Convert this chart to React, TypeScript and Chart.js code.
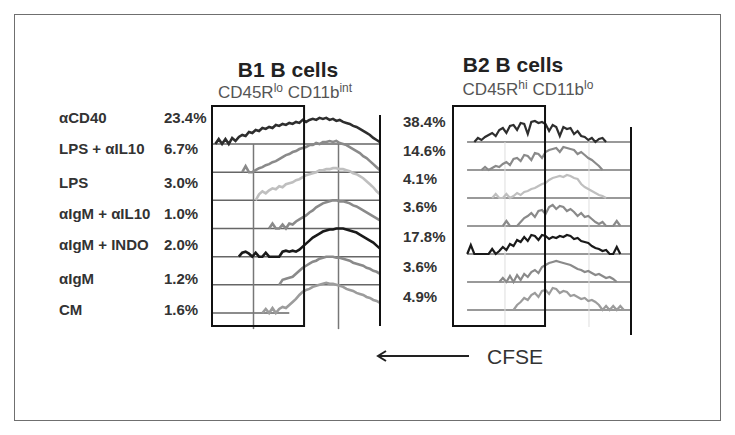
import React, { useEffect, useRef } from "react";
import { Chart, registerables } from "chart.js";

Chart.register(...registerables);

// ---------- data ----------
const CFSE_STEP = 2; // channel step between histogram bins (CFSE channel 0..100)
const ROW_STEP = 28; // count offset between stacked histograms

const CONDITIONS = ["αCD40", "LPS + αIL10", "LPS", "αIgM + αIL10", "αIgM + INDO", "αIgM", "CM"];
const B1_PCT = ["23.4%", "6.7%", "3.0%", "1.0%", "2.0%", "1.2%", "1.6%"];
const B2_PCT = ["38.4%", "14.6%", "4.1%", "3.6%", "17.8%", "3.6%", "4.9%"];

// B1 B cells (first channel of each histogram, then counts)
const B1_START = [2, 18, 26, 34, 16, 40, 30];
const B1_CD40 = [0, 5, 0, 5, 0, 6, 3, 7, 9, 8, 12, 11, 14, 13, 16, 15, 17, 16, 19, 18, 20, 19, 21, 20, 22, 21, 24, 22, 24, 25, 24, 26, 25, 26, 24, 25, 23, 24, 22, 21, 20, 18, 17, 15, 13, 11, 9, 6, 4, 2];
const B1_LPS_IL10 = [0, 6, 0, 0, 2, 4, 5, 7, 8, 10, 11, 13, 15, 17, 18, 20, 21, 23, 24, 25, 27, 27, 29, 28, 30, 30, 31, 30, 31, 29, 28, 27, 25, 23, 21, 19, 16, 14, 11, 8, 5, 2];
const B1_LPS = [0, 6, 9, 7, 10, 12, 11, 14, 13, 16, 17, 18, 20, 21, 23, 25, 26, 27, 28, 30, 30, 31, 31, 32, 32, 31, 31, 30, 29, 27, 26, 24, 22, 19, 16, 13, 9, 6];
const B1_IGM_IL10 = [0, 5, 0, 0, 4, 0, 5, 4, 7, 9, 11, 13, 16, 18, 21, 23, 25, 26, 27, 28, 28, 27, 27, 26, 25, 23, 22, 20, 18, 16, 14, 12, 10, 8];
const B1_IGM_INDO = [0, 4, 5, 3, 0, 4, 0, 0, 4, 0, 0, 0, 0, 5, 6, 5, 6, 5, 7, 10, 13, 16, 19, 21, 23, 25, 26, 27, 27, 28, 28, 28, 27, 26, 25, 24, 22, 20, 18, 16, 14, 11, 8];
const B1_IGM = [0, 5, 6, 7, 8, 11, 14, 17, 19, 21, 23, 24, 26, 27, 28, 28, 28, 27, 27, 26, 25, 24, 22, 21, 20, 19, 17, 16, 14, 13, 11];
const B1_CM = [0, 4, 0, 5, 0, 4, 6, 5, 8, 11, 14, 18, 21, 23, 24, 26, 27, 28, 29, 30, 29, 29, 28, 27, 26, 24, 23, 22, 20, 19, 18, 16, 15, 13, 12, 10];

// B2 B cells
const B2_START = [12, 16, 22, 28, 8, 26, 34];
const B2_CD40 = [0, 4, 2, 5, 7, 9, 6, 12, 14, 9, 16, 17, 12, 19, 18, 8, 20, 21, 19, 20, 18, 11, 17, 15, 6, 15, 13, 14, 8, 11, 6, 5, 2, 4, 0, 3, 4, 0];
const B2_LPS_IL10 = [0, 3, 0, 2, 4, 3, 6, 8, 5, 11, 12, 9, 15, 14, 10, 17, 16, 12, 18, 20, 21, 22, 18, 23, 22, 21, 20, 16, 18, 15, 12, 10, 7, 4, 0];
const B2_LPS = [0, 4, 0, 0, 4, 0, 2, 5, 3, 6, 7, 9, 10, 12, 14, 15, 18, 20, 21, 22, 21, 23, 22, 20, 19, 14, 11, 9, 7, 5, 3, 2, 0];
const B2_IGM_IL10 = [0, 5, 0, 0, 0, 4, 8, 10, 13, 9, 15, 16, 12, 19, 21, 17, 20, 19, 15, 17, 14, 10, 13, 9, 10, 7, 4, 2, 4, 0, 0, 0, 5, 0];
const B2_IGM_INDO = [0, 9, 0, 0, 0, 0, 0, 5, 0, 3, 7, 4, 10, 8, 14, 12, 17, 13, 19, 18, 14, 19, 18, 15, 17, 16, 18, 17, 19, 18, 15, 16, 13, 12, 11, 8, 6, 5, 3, 4, 0, 0, 7, 0];
const B2_IGM = [0, 4, 0, 6, 0, 7, 2, 8, 5, 10, 12, 9, 15, 17, 19, 20, 21, 20, 19, 18, 17, 15, 13, 12, 10, 11, 9, 7, 8, 6, 4, 5, 3, 0];
const B2_CM = [0, 5, 8, 12, 10, 15, 17, 13, 19, 20, 16, 22, 21, 17, 19, 18, 14, 15, 13, 11, 12, 9, 10, 8, 5, 0, 4, 0, 4, 0, 4, 0];

const B1_SERIES = [B1_CD40, B1_LPS_IL10, B1_LPS, B1_IGM_IL10, B1_IGM_INDO, B1_IGM, B1_CM];
const B2_SERIES = [B2_CD40, B2_LPS_IL10, B2_LPS, B2_IGM_IL10, B2_IGM_INDO, B2_IGM, B2_CM];

// gates and reference channels
const B1_GATE = [0, 54.8];
const B2_GATE = [0, 51.7];
const B1_REFS = [24.7, 75.3];
const B2_REFS = [29.2, 76.4];

// ---------- styles ----------
const SERIES_COLORS = ["#2e2e2e", "#8a8a8a", "#bfbfbf", "#8a8a8a", "#1a1a1a", "#8a8a8a", "#9c9c9c"];
const FONT = "'Liberation Sans', Arial, Helvetica, sans-serif";

function withAlpha(hex: string, a: number) {
  const n = parseInt(hex.slice(1), 16);
  return `rgba(${(n >> 16) & 255},${(n >> 8) & 255},${n & 255},${a})`;
}

type PanelProps = {
  series: number[][];
  starts: number[];
  gate: number[];
  refs: number[];
  left: number;
  top: number;
  width: number;
  height: number;
  padding: { left: number; right: number; top: number; bottom: number };
  yMin: number;
  yMax: number;
  baseStart: number;
  baseEnds: number[];
  baseColor: string;
  refColor: string;
  refWidth: number;
  refRange: number[];
  rightRange: number[];
  lineWidth: number;
  fillAlpha: number;
};

function HistPanel(p: PanelProps) {
  const ref = useRef<HTMLCanvasElement | null>(null);
  useEffect(() => {
    if (!ref.current) return;
    const nRows = p.series.length;
    const datasets = p.series.map((vals, r) => {
      const base = (nRows - 1 - r) * ROW_STEP;
      return {
        data: vals.map((v, i) => ({ x: p.starts[r] + i * CFSE_STEP, y: v + base })),
        borderColor: SERIES_COLORS[r],
        backgroundColor: withAlpha(SERIES_COLORS[r], p.fillAlpha),
        borderWidth: p.lineWidth,
        pointRadius: 0,
        tension: 0,
        fill: p.fillAlpha > 0 ? { value: base } : false,
        clip: false as any,
      };
    });
    const decor = {
      id: "decor",
      beforeDatasetsDraw(chart: any) {
        const ctx = chart.ctx;
        const xs = chart.scales.x;
        const ys = chart.scales.y;
        ctx.save();
        ctx.strokeStyle = p.baseColor;
        ctx.lineWidth = 1.5;
        p.baseEnds.forEach((end, r) => {
          const yy = ys.getPixelForValue((nRows - 1 - r) * ROW_STEP);
          ctx.beginPath();
          ctx.moveTo(xs.getPixelForValue(p.baseStart), yy);
          ctx.lineTo(xs.getPixelForValue(end), yy);
          ctx.stroke();
        });
        ctx.strokeStyle = p.refColor;
        ctx.lineWidth = p.refWidth;
        p.refs.forEach((v) => {
          const xx = xs.getPixelForValue(v);
          ctx.beginPath();
          ctx.moveTo(xx, ys.getPixelForValue(p.refRange[0]));
          ctx.lineTo(xx, ys.getPixelForValue(p.refRange[1]));
          ctx.stroke();
        });
        ctx.restore();
      },
      afterDatasetsDraw(chart: any) {
        const ctx = chart.ctx;
        const xs = chart.scales.x;
        const ys = chart.scales.y;
        const area = chart.chartArea;
        ctx.save();
        ctx.strokeStyle = "#111";
        ctx.lineWidth = 2;
        const l = xs.getPixelForValue(p.gate[0]);
        const rr = xs.getPixelForValue(p.gate[1]);
        ctx.strokeRect(l, area.top, rr - l, area.bottom - area.top);
        const xr = xs.getPixelForValue(100);
        ctx.beginPath();
        ctx.moveTo(xr, ys.getPixelForValue(p.rightRange[0]));
        ctx.lineTo(xr, ys.getPixelForValue(p.rightRange[1]));
        ctx.stroke();
        ctx.restore();
      },
    };
    const chart = new Chart(ref.current, {
      type: "line",
      data: { datasets: datasets as any },
      options: {
        animation: false,
        responsive: false,
        devicePixelRatio: 1,
        events: [],
        layout: { padding: p.padding },
        plugins: { legend: { display: false }, tooltip: { enabled: false } },
        scales: {
          x: { type: "linear", min: 0, max: 100, display: false },
          y: { type: "linear", min: p.yMin, max: p.yMax, display: false },
        },
      },
      plugins: [decor],
    });
    return () => chart.destroy();
  }, []);
  return (
    <canvas
      ref={ref}
      width={p.width}
      height={p.height}
      style={{ position: "absolute", left: p.left, top: p.top, width: p.width, height: p.height }}
    />
  );
}

const B1_LABEL_Y = [117.3, 148, 182.7, 213, 244, 278, 309.3];
const B2_LABEL_Y = [121.7, 150, 178.3, 206.7, 236.7, 266.7, 296.7];

function Txt(props: { x: number; cy: number; size: number; bold?: boolean; color: string; children: any; align?: "left" | "center"; w?: number }) {
  const { x, cy, size, bold, color, children, align, w } = props;
  return (
    <div
      style={{
        position: "absolute",
        left: align === "center" ? x - (w || 200) / 2 : x,
        width: align === "center" ? w || 200 : undefined,
        textAlign: align || "left",
        top: cy - 0.488 * size,
        fontSize: size,
        lineHeight: `${size}px`,
        fontWeight: bold ? 700 : 400,
        color,
        whiteSpace: "nowrap",
        fontFamily: FONT,
      }}
    >
      {children}
    </div>
  );
}

export default function App() {
  const sup = { fontSize: 12, verticalAlign: "6px" } as React.CSSProperties;
  return (
    <div style={{ position: "absolute", left: 0, top: 0, width: 735, height: 435, background: "#fff", fontFamily: FONT, overflow: "hidden" }}>
      <div style={{ position: "absolute", left: 14, top: 14, width: 705, height: 405, border: "1px solid #6f6f6f" }} />

      <Txt x={288} cy={69.6} size={21} bold color="#222" align="center">B1 B cells</Txt>
      <Txt x={285} cy={88} size={17} color="#555" align="center" w={240}>
        CD45R<span style={sup}>lo</span> CD11b<span style={sup}>int</span>
      </Txt>
      <Txt x={513} cy={64.6} size={21} bold color="#222" align="center">B2 B cells</Txt>
      <Txt x={528} cy={85.5} size={17} color="#555" align="center" w={240}>
        CD45R<span style={sup}>hi</span> CD11b<span style={sup}>lo</span>
      </Txt>

      {CONDITIONS.map((c, i) => (
        <Txt key={"c" + i} x={59} cy={B1_LABEL_Y[i]} size={15} bold color="#333">{c}</Txt>
      ))}
      {B1_PCT.map((c, i) => (
        <Txt key={"p1" + i} x={164} cy={B1_LABEL_Y[i]} size={15} bold color="#333">{c}</Txt>
      ))}
      {B2_PCT.map((c, i) => (
        <Txt key={"p2" + i} x={403} cy={B2_LABEL_Y[i]} size={15} bold color="#333">{c}</Txt>
      ))}

      <HistPanel
        series={B1_SERIES}
        starts={B1_START}
        gate={B1_GATE}
        refs={B1_REFS}
        left={200}
        top={95}
        width={195}
        height={245}
        padding={{ left: 12, right: 15, top: 11, bottom: 14 }}
        yMin={-12.9}
        yMax={205.8}
        baseStart={0}
        baseEnds={[100, 100, 100, 100, 100, 100, 46]}
        baseColor="#666"
        refColor="#777"
        refWidth={1.5}
        refRange={[168, -16]}
        rightRange={[196.8, -12.9]}
        lineWidth={2.6}
        fillAlpha={0}
      />
      <HistPanel
        series={B2_SERIES}
        starts={B2_START}
        gate={B2_GATE}
        refs={B2_REFS}
        left={440}
        top={95}
        width={205}
        height={250}
        padding={{ left: 13, right: 14, top: 11, bottom: 19 }}
        yMin={-16}
        yMax={204}
        baseStart={7.9}
        baseEnds={[100, 100, 100, 100, 100, 100, 100]}
        baseColor="#777"
        refColor="#dedede"
        refWidth={1}
        refRange={[168, -17]}
        rightRange={[183, -25]}
        lineWidth={2.2}
        fillAlpha={0}
      />

      <svg style={{ position: "absolute", left: 370, top: 345, width: 105, height: 22 }} width={105} height={22}>
        <line x1={8} y1={11} x2={99} y2={11} stroke="#222" strokeWidth={2} />
        <polyline points="16,6 8,11 16,16" fill="none" stroke="#222" strokeWidth={2} />
      </svg>
      <Txt x={487} cy={356} size={21} color="#333">CFSE</Txt>
    </div>
  );
}
